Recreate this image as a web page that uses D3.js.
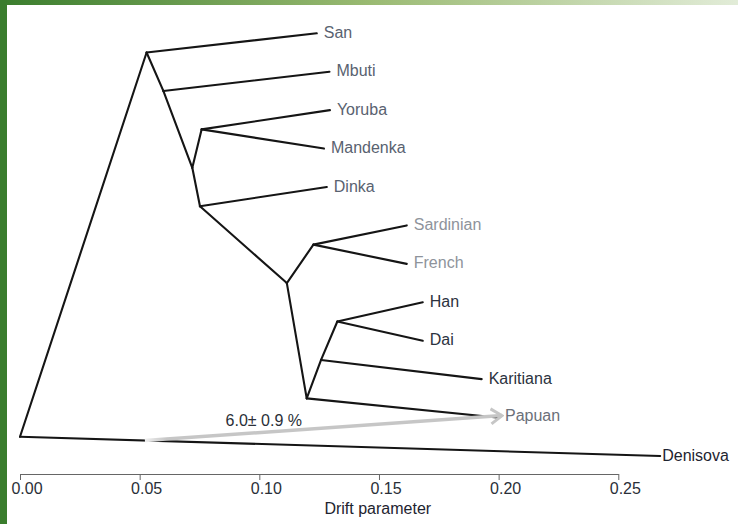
<!DOCTYPE html>
<html>
<head>
<meta charset="utf-8">
<script src="https://cdn.jsdelivr.net/npm/d3@7"></script>
<style>
  body { margin: 0; background: #fff; }
  svg text { font-family: "Liberation Sans", Arial, sans-serif; }
</style>
</head>
<body>
<div id="chart"></div>
<script>

// leaves of the tree (row = vertical slot, drift = x value)
const leaves = ["San", "Mbuti", "Yoruba", "Mandenka", "Dinka", "Sardinian", "French", "Han", "Dai", "Karitiana", "Papuan", "Denisova"]
const leafDrift = [0.1240, 0.1293, 0.1295, 0.1270, 0.1282, 0.1616, 0.1616, 0.1683, 0.1683, 0.1929, 0.1993, 0.2675]
const leafRow = [0, 1, 2, 3, 4, 5, 6, 7, 8, 9, 10, 11]
const leafGroup = ["africa", "africa", "africa", "africa", "africa", "europe", "europe", "asia", "asia", "asia", "papua", "archaic"]

// internal nodes
const nodes = ["root", "n1", "n2", "n3", "n4", "n5", "n6", "n7", "n8", "n9", "n10"]
const nodeDrift = [0, 0.0529, 0.0599, 0.0720, 0.0759, 0.0752, 0.1115, 0.1226, 0.1198, 0.1258, 0.1326]
const nodeRow = [10.5, 0.5, 1.5, 3.5, 2.5, 4.5, 6.5, 5.5, 9.5, 8.5, 7.5]

// edges parent -> child
const edgeFrom = ["root", "root", "n1", "n1", "n2", "n2", "n3", "n3", "n4", "n4", "n5", "n5", "n6", "n6", "n7", "n7", "n8", "n8", "n9", "n9", "n10", "n10"]
const edgeTo = ["n1", "Denisova", "San", "n2", "Mbuti", "n3", "n4", "n5", "Yoruba", "Mandenka", "Dinka", "n6", "n7", "n8", "Sardinian", "French", "n9", "Papuan", "n10", "Karitiana", "Han", "Dai"]

// admixture event
const admixFrom = "Denisova"      // sits on edge root -> Denisova
const admixDrift = 0.0522
const admixTo = "Papuan"
const admixLabel = "6.0\u00b1 0.9 %"

const xTicks = [0, 0.05, 0.10, 0.15, 0.20, 0.25]
const xLabel = "Drift parameter"

// layout
const width = 738
const height = 524

const svg = d3.select("#chart").append("svg")
    .attr("width", width)
    .attr("height", height)

const defs = svg.append("defs")

// frame decoration (green border)
const topGrad = defs.append("linearGradient").attr("id", "topGrad")
topGrad.append("stop").attr("offset", "0%").attr("stop-color", "#3a7d2d")
topGrad.append("stop").attr("offset", "50%").attr("stop-color", "#9aba72")
topGrad.append("stop").attr("offset", "100%").attr("stop-color", "#e2ecd8")

svg.append("rect").attr("x", 0).attr("y", 0).attr("width", width).attr("height", 5).attr("fill", "url(#topGrad)")
svg.append("rect").attr("x", 0).attr("y", 0).attr("width", 7).attr("height", height).attr("fill", "#3a7d2d")

// scales
const x = d3.scaleLinear().domain([0, 0.25]).range([20, 618.3])
const y = d3.scaleLinear().domain([0, 11]).range([33.3, 456])

const colorScale = d3.scaleOrdinal()
    .domain(["africa", "europe", "asia", "papua", "archaic"])
    .range(["#596270", "#8e939b", "#2c3340", "#6b7079", "#1e2430"])

// lookup of positions
const pos = {}
leaves.forEach((d, i) => pos[d] = {drift: leafDrift[i], row: leafRow[i]})
nodes.forEach((d, i) => pos[d] = {drift: nodeDrift[i], row: nodeRow[i]})

// axis
const axis = svg.append("g")
    .attr("transform", `translate(0,474)`)
    .call(d3.axisBottom(x)
        .tickValues(xTicks)
        .tickFormat(d3.format(".2f"))
        .tickSize(6)
        .tickSizeOuter(0)
        .tickPadding(3))

axis.select(".domain").attr("stroke", "#666")
axis.selectAll(".tick line").attr("stroke", "#666")
axis.selectAll(".tick text")
    .attr("dx", 6.5)
    .attr("font-size", 16)
    .attr("fill", "#2a2f38")

svg.append("text")
    .attr("x", x(0.1495))
    .attr("y", 514)
    .attr("text-anchor", "middle")
    .attr("font-size", 16)
    .attr("fill", "#1e2430")
    .text(xLabel)

// admixture source sits on root -> Denisova edge
const rootP = pos["root"], denP = pos[admixFrom]
const t = (admixDrift - rootP.drift) / (denP.drift - rootP.drift)
const srcX = x(admixDrift)
const srcY = y(rootP.row + t * (denP.row - rootP.row))
const tgtX = x(pos[admixTo].drift) + 5
const tgtY = y(pos[admixTo].row) - 2

// tree edges
const edges = edgeFrom.map((f, i) => ({from: pos[f], to: pos[edgeTo[i]]}))

svg.append("g")
    .selectAll("line")
    .data(edges)
    .join("line")
    .attr("x1", d => x(d.from.drift))
    .attr("y1", d => y(d.from.row))
    .attr("x2", d => x(d.to.drift))
    .attr("y2", d => y(d.to.row))
    .attr("stroke", "#151515")
    .attr("stroke-width", 2.1)
    .attr("stroke-linecap", "round")

// admixture arrow
const arrowGrad = defs.append("linearGradient")
    .attr("id", "arrowGrad")
    .attr("gradientUnits", "userSpaceOnUse")
    .attr("x1", srcX).attr("y1", srcY)
    .attr("x2", tgtX).attr("y2", tgtY)
arrowGrad.append("stop").attr("offset", "0%").attr("stop-color", "#f0f0f0")
arrowGrad.append("stop").attr("offset", "6%").attr("stop-color", "#c6c6c6")
arrowGrad.append("stop").attr("offset", "100%").attr("stop-color", "#c6c6c6")

defs.append("marker")
    .attr("id", "arrowHead")
    .attr("markerUnits", "userSpaceOnUse")
    .attr("viewBox", "0 0 14 18")
    .attr("markerWidth", 14)
    .attr("markerHeight", 18)
    .attr("refX", 12)
    .attr("refY", 9)
    .attr("orient", "auto")
    .append("path")
    .attr("d", "M1,1.5 L12,9 L1,16.5")
    .attr("fill", "none")
    .attr("stroke", "#c6c6c6")
    .attr("stroke-width", 3)
    .attr("stroke-linejoin", "miter")

svg.append("line")
    .attr("x1", srcX).attr("y1", srcY)
    .attr("x2", tgtX).attr("y2", tgtY)
    .attr("stroke", "url(#arrowGrad)")
    .attr("stroke-width", 3.5)
    .attr("marker-end", "url(#arrowHead)")

svg.append("text")
    .attr("x", srcX + (tgtX - srcX) * 0.333)
    .attr("y", srcY + (tgtY - srcY) * 0.333 - 6)
    .attr("text-anchor", "middle")
    .attr("font-size", 16)
    .attr("fill", "#2a2f38")
    .text(admixLabel)

// leaf labels
svg.append("g")
    .selectAll("text")
    .data(leaves)
    .join("text")
    .attr("x", (d, i) => x(leafDrift[i]) + (d === "Denisova" ? 2 : d === "Papuan" ? 8 : 7))
    .attr("y", (d, i) => y(leafRow[i]) - (d === "Papuan" ? 2 : 1))
    .attr("dy", "0.35em")
    .attr("font-size", 16)
    .attr("fill", (d, i) => colorScale(leafGroup[i]))
    .text(d => d)

</script>
</body>
</html>
